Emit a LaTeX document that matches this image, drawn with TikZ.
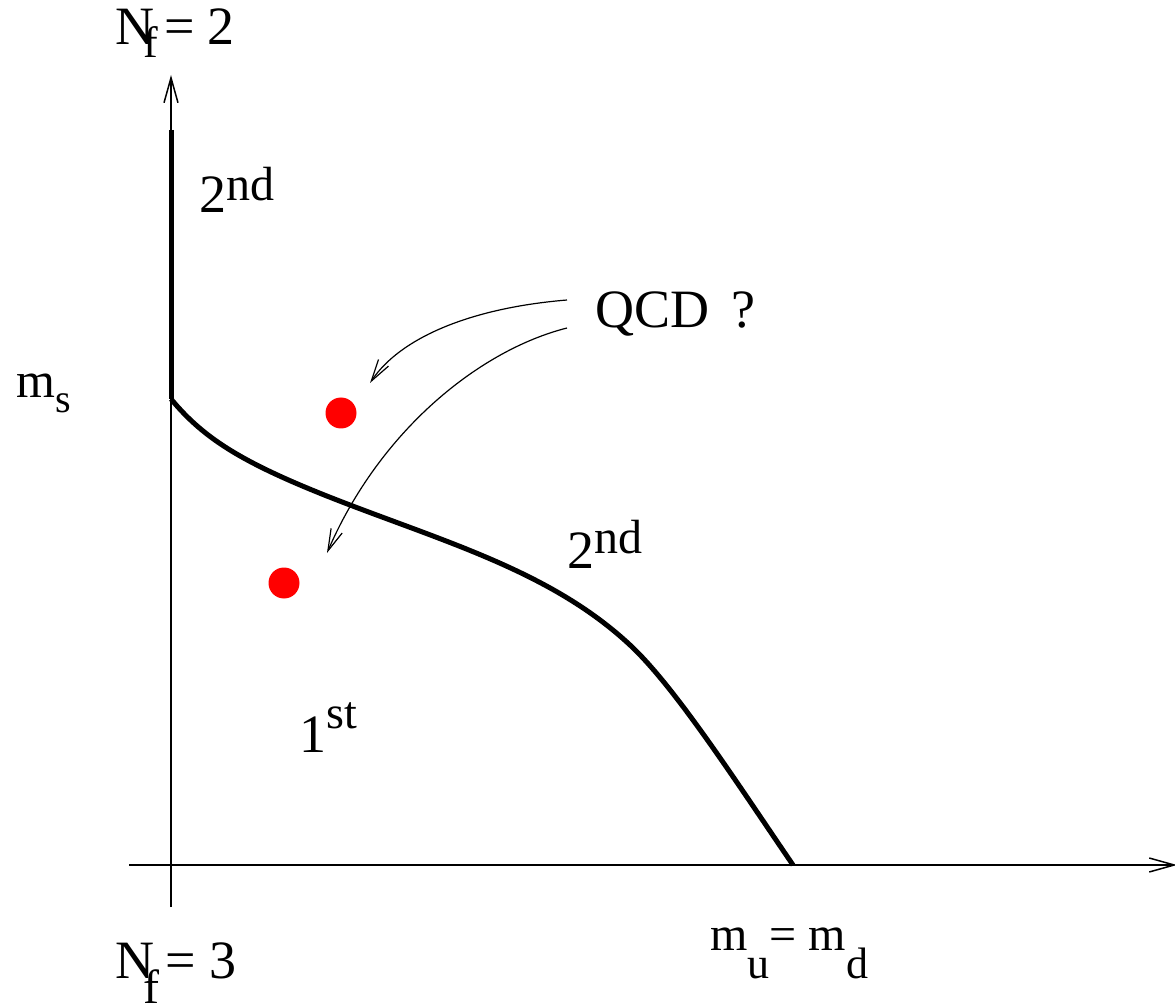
\documentclass[tikz,border=0pt]{standalone}
\usepackage{fontspec}
\setmainfont{Liberation Serif}
\usetikzlibrary{arrows.meta}
\newcommand{\supx}[3]{\raisebox{#1}{\fontsize{#2}{#2}\selectfont #3}}
\newcommand{\subx}[3]{\raisebox{-#1}{\fontsize{#2}{#2}\selectfont #3}}

\begin{document}
\begin{tikzpicture}[
  x=0.5pt, y=-0.5pt,
  lbl/.style={anchor=base west, inner sep=0pt, font=\fontsize{27}{30}\selectfont},
  axis/.style={line width=0.75pt, -{Straight Barb[length=12.5pt, width=7pt]}},
  phase/.style={line width=2.5pt},
  dot/.style={circle, fill=red, inner sep=0pt, minimum size=15.5pt},
  ptr/.style={line width=0.6pt, -{Straight Barb[length=11pt, width=6pt]}}
]
\useasboundingbox (0,0) rectangle (1175,1006);

% --- axes ---
\coordinate (xs) at (129,865);
\coordinate (xe) at (1177,865);
\coordinate (ys) at (171,907);
\coordinate (ye) at (171,75);
\draw[axis] (xs) -- (xe);
\draw[axis] (ys) -- (ye);

% --- phase boundaries ---
\coordinate (top) at (171,130);
\coordinate (tc)  at (171,399);
\coordinate (mid) at (350,505);
\coordinate (knee) at (630,645);
\coordinate (end) at (793,865);
\draw[phase] (top) -- (tc);
\draw[phase] (tc) .. controls (205,440) and (245,465) .. (mid)
  .. controls (455,545) and (555,575) .. (knee)
  .. controls (675,687) and (735,780) .. (end);

% --- candidate points ---
\node[dot] (p1) at (341,413) {};
\node[dot] (p2) at (284,583) {};

% --- labels ---
\node[lbl] (nf2)  at (115,45)  {N\kern-5.5pt\subx{6.5pt}{22}{f}\kern3pt= 2};
\node[lbl] (sec1) at (199,213) {2\supx{6pt}{24}{nd}};
\node[lbl] (qcd)  at (595,328) {QCD\, ?};
\node[lbl, font=\fontsize{25}{28}\selectfont] (ms) at (16,398) {m\subx{7.5pt}{20}{s}};
\node[lbl] (sec2) at (567,568) {2\supx{7.5pt}{24}{nd}};
\node[lbl] (fst)  at (299,752) {1\supx{12pt}{23}{st}};
\node[lbl] (nf3)  at (115,978) {N\kern-5.5pt\subx{12.5pt}{24}{f}\kern3pt= 3};
\node[lbl, font=\fontsize{24}{27}\selectfont] (mud) at (710,950)
  {m\subx{14pt}{22}{u}= m\subx{14pt}{22}{d}};

% --- pointers from the QCD label ---
\coordinate (a1s) at (567,300);
\coordinate (a1e) at (370,383);
\coordinate (a2s) at (567,328);
\coordinate (a2e) at (327,553);
\draw[ptr] (a1s) .. controls (470,308) and (400,338) .. (a1e);
\draw[ptr] (a2s) .. controls (480,350) and (380,430) .. (a2e);
\end{tikzpicture}
\end{document}
